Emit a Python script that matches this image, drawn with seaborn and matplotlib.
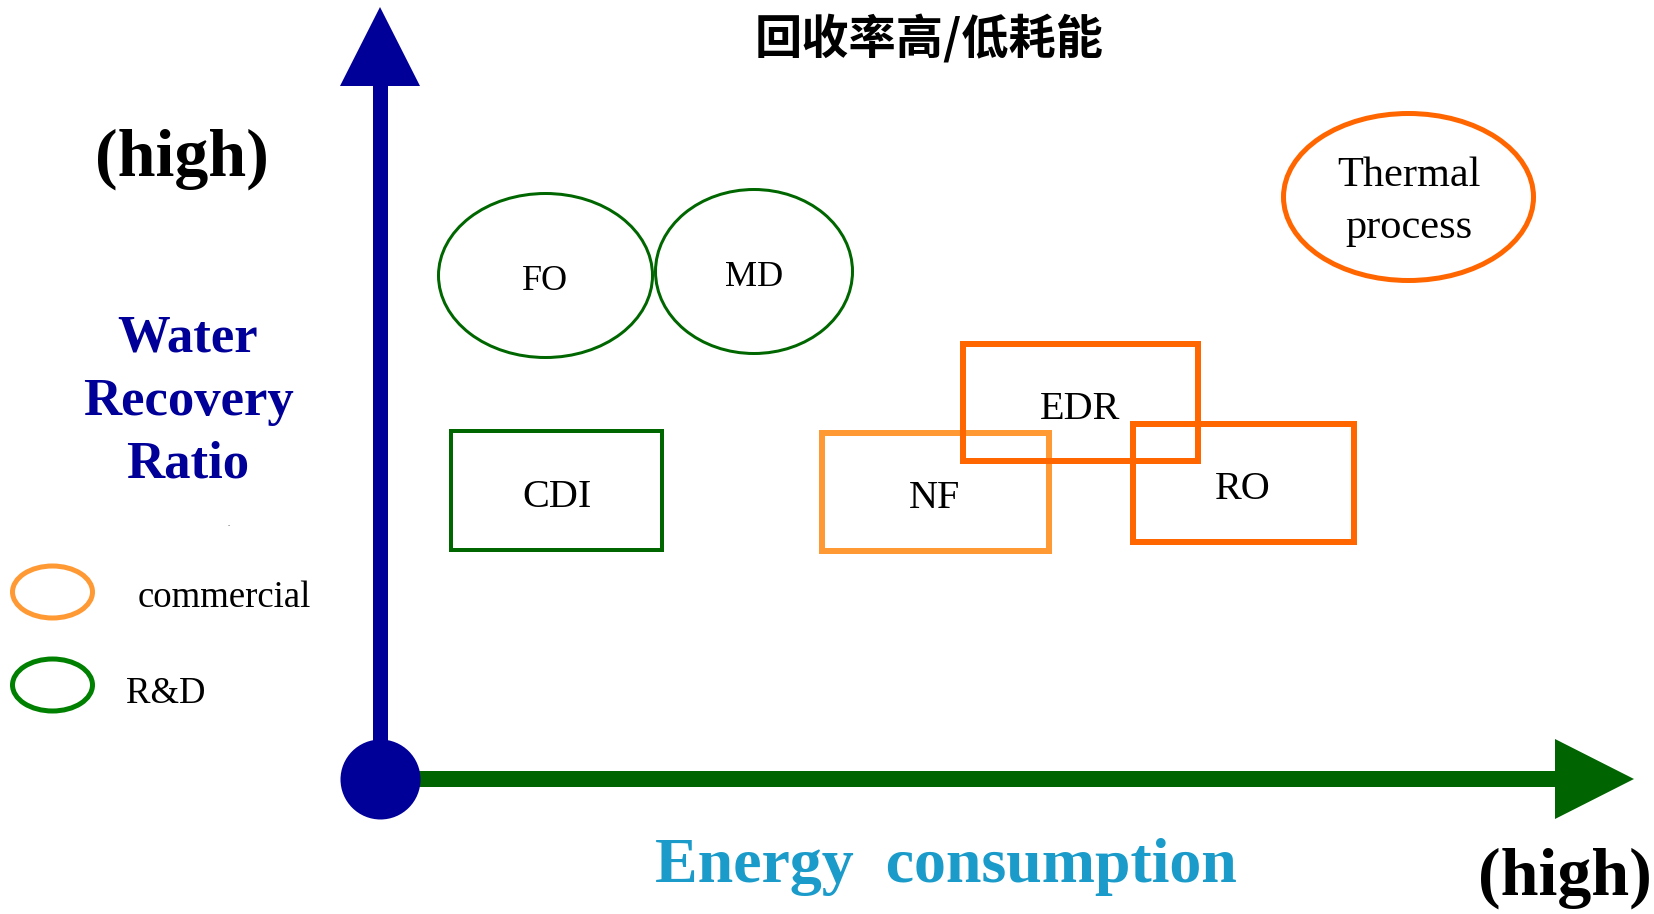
import matplotlib
matplotlib.use("Agg")
import matplotlib.pyplot as plt
from matplotlib.patches import Ellipse, Rectangle, Polygon
import seaborn as sns

# Technologies placed on the energy / water-recovery plane (canvas units)
tech_names = ["FO", "MD", "CDI", "NF", "EDR", "RO", "Thermal\nprocess"]
tech_stage = ["R&D", "R&D", "R&D", "commercial", "commercial", "commercial", "commercial"]
tech_shape = ["ellipse", "ellipse", "rect", "rect", "rect", "rect", "ellipse"]
energy_center = [545.5, 754, 556.5, 935, 1080.5, 1243, 1408.5]
recovery_center = [275.5, 271.5, 490.5, 491.5, 402.5, 483, 197]
energy_span = [214, 197, 211, 227, 235, 221, 250]
recovery_span = [164, 164, 119, 118, 117, 118, 167]

legend_labels = ["commercial", "R&D"]
title_text = "回收率高/低耗能"
y_axis_label = "Water\nRecovery\nRatio"
x_axis_label = "Energy  consumption"
high_label = "(high)"

sns.set_theme(style="white")
plt.rcParams["font.family"] = ["Liberation Serif", "DejaVu Serif"]

W, H = 1654, 914
fig = plt.figure(figsize=(W / 100, H / 100), dpi=100)
ax = fig.add_axes([0, 0, 1, 1])

PX = 72 / 100  # points per pixel

navy = "#000099"
dark_green = "#006400"
rd_green = "#006600"
light_orange = "#FF9933"
orange = "#FF6600"

# Axes arrows with the origin dot
ox, oy = 380, 779
ax.plot([ox, ox], [oy, 80], color=navy, lw=15 * PX, solid_capstyle="butt", zorder=2)
ax.add_patch(Polygon([[340, 86], [420, 86], [380, 7]], closed=True, color=navy, lw=0, zorder=3))
ax.plot([ox, 1560], [oy, oy], color=dark_green, lw=16 * PX, solid_capstyle="butt", zorder=2)
ax.add_patch(Polygon([[1555, 739], [1555, 819], [1634, 779]], closed=True, color=dark_green, lw=0, zorder=3))
sns.scatterplot(x=[ox], y=[oy], s=(80 * PX) ** 2, color=navy, linewidth=0, ax=ax, zorder=5, legend=False)
ax.set_xlim(0, W)
ax.set_ylim(H, 0)
ax.axis("off")

# Technology shapes
edge_colors = [rd_green, rd_green, rd_green, light_orange, orange, orange, orange]
edge_widths = [3, 3, 4, 6, 6, 6, 5]
label_sizes = [26, 26, 29, 29, 29, 29, 30.5]

for name, shape, cx, cy, w, h, ec, lw, fs in zip(tech_names, tech_shape, energy_center,
                                                 recovery_center, energy_span, recovery_span,
                                                 edge_colors, edge_widths, label_sizes):
    if shape == "ellipse":
        patch = Ellipse((cx, cy), w, h, fill=False, ec=ec, lw=lw * PX, zorder=4)
    else:
        patch = Rectangle((cx - w / 2, cy - h / 2), w, h, fill=False, ec=ec, lw=lw * PX,
                          joinstyle="miter", zorder=4)
    ax.add_patch(patch)
    if "\n" in name:
        ax.text(cx, cy + 5, name, ha="center", va="center", fontsize=fs, color="black",
                linespacing=1.45, zorder=6)
    else:
        fs_px = fs / PX
        ax.text(cx, cy + 0.33 * fs_px + 3, name, ha="center", va="baseline", fontsize=fs,
                color="black", zorder=6)

# Legend
legend_colors = [light_orange, "#008000"]
legend_y = [592, 685]
legend_text_x = [138, 126]
legend_text_base = [607, 703]
for lab, col, ly, tx, tb in zip(legend_labels, legend_colors, legend_y, legend_text_x, legend_text_base):
    ax.add_patch(Ellipse((52.5, ly), 80, 52, fill=False, ec=col, lw=5 * PX, zorder=4))
    ax.text(tx, tb, lab, ha="left", va="baseline", fontsize=26.5, color="black")

ax.text(229, 526, ".", ha="center", va="baseline", fontsize=6, color="#333333")

# Axis titles
ax.text(182, 176, high_label, ha="center", va="baseline", fontsize=49, fontweight="bold",
        color="black")
ax.text(1565, 895, high_label, ha="center", va="baseline", fontsize=49, fontweight="bold",
        color="black")
for i, line in enumerate(y_axis_label.split("\n")):
    ax.text(188, 351 + i * 63.5, line, ha="center", va="baseline", fontsize=38,
            fontweight="bold", color=navy)
ax.text(946, 882, x_axis_label, ha="center", va="baseline", fontsize=46, fontweight="bold",
        color="#1A9BC9")

ax.text(929, 40, title_text, ha="center", va="center", fontsize=34, fontweight="bold",
        color="black", family=["Noto Sans CJK SC", "DejaVu Sans"])

fig.savefig("out.png", dpi=100, facecolor="white")
